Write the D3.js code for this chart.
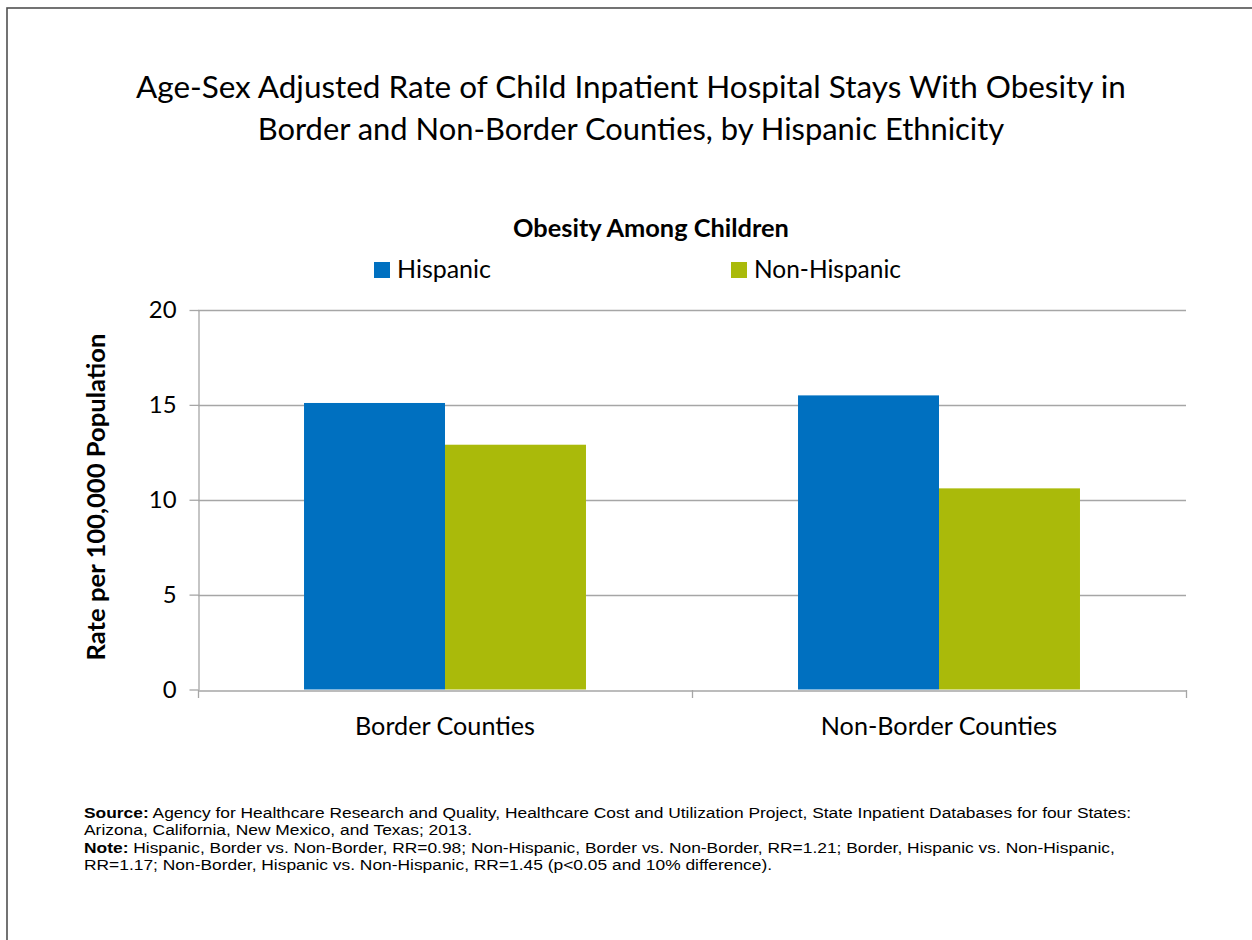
<!DOCTYPE html>
<html><head><meta charset="utf-8">
<script src="https://cdn.jsdelivr.net/npm/d3@7"></script>
<style>body{margin:0;background:#fff;} svg{display:block;}</style>
</head><body>
<script>
const categories = ["Border Counties", "Non-Border Counties"];
const seriesNames = ["Hispanic", "Non-Hispanic"];
const hispanic = [15.1, 15.5];
const nonHispanic = [12.9, 10.6];
const yTicks = [0, 5, 10, 15, 20];
const colors = ["#0070C0", "#AABA0A"];

(function () {
const W = 1252, H = 940;
const svg = d3.select("body").append("svg").attr("width", W).attr("height", H);
svg.append("rect").attr("width", W).attr("height", H).attr("fill", "#fff");
svg.append("rect").attr("x", 7).attr("y", 8).attr("width", W + 10).attr("height", H + 10)
  .attr("fill", "none").attr("stroke", "#505050").attr("stroke-width", 1.6);

const font = "Lato, 'Open Sans', sans-serif";
function fit(node, target) {
  const s = d3.select(node);
  const fs = parseFloat(s.attr("font-size"));
  const w = node.getComputedTextLength();
  s.attr("font-size", (fs * target / w).toFixed(2));
}

const title = ["Age-Sex Adjusted Rate of Child Inpatient Hospital Stays With Obesity in",
               "Border and Non-Border Counties, by Hispanic Ethnicity"];
const titleW = [990, 747];
svg.selectAll("text.title").data(title).enter().append("text").attr("class", "title")
  .attr("x", 631).attr("y", (d, i) => 98 + i * 42).attr("text-anchor", "middle")
  .attr("font-family", font).attr("font-size", 27).attr("fill", "#000").text(d => d)
  .each(function (d, i) { fit(this, titleW[i]); });

svg.append("text").attr("x", 651).attr("y", 237).attr("text-anchor", "middle")
  .attr("font-family", font).attr("font-size", 21).attr("font-weight", "bold").text("Obesity Among Children")
  .each(function () { fit(this, 276); });

const pL = 198, pR = 1186, pT = 310, pB = 689.5;
const y = d3.scaleLinear().domain([0, 20]).range([pB, pT]);
const x0 = d3.scaleBand().domain(categories).range([pL, pR]).padding(0);
const x1 = d3.scaleBand().domain(seriesNames).range([0, x0.bandwidth()]).paddingInner(0).paddingOuter(0.752);

svg.append("g").selectAll("line").data(yTicks.filter(d => d > 0)).enter().append("line")
  .attr("x1", pL).attr("x2", pR).attr("y1", d => Math.round(y(d)) + 0.5).attr("y2", d => Math.round(y(d)) + 0.5)
  .attr("stroke", "#a6a6a6").attr("stroke-width", 1.3);

const data = categories.map((c, i) => ({c, vals: [hispanic[i], nonHispanic[i]]}));
const g = svg.append("g").selectAll("g").data(data).enter().append("g")
  .attr("transform", d => `translate(${x0(d.c)},0)`);
g.selectAll("rect").data(d => d.vals.map((v, j) => ({s: seriesNames[j], v, j}))).enter().append("rect")
  .attr("x", d => x1(d.s)).attr("width", x1.bandwidth())
  .attr("y", d => y(d.v)).attr("height", d => y(0) - y(d.v)).attr("fill", d => colors[d.j]);

const xAxis = svg.append("g").attr("transform", `translate(0,${Math.round(pB) + 0.5})`)
  .call(d3.axisBottom(x0).tickSize(0).tickPadding(30));
xAxis.select(".domain").attr("stroke", "#a6a6a6").attr("stroke-width", 1.3);
xAxis.selectAll("text").attr("font-family", font).attr("font-size", 22).attr("fill", "#000");
const catNode = xAxis.select(".tick text").node();
fit(catNode, 180);
const labelSize = parseFloat(d3.select(catNode).attr("font-size"));
xAxis.selectAll("text").attr("font-size", labelSize).attr("dy", "0.71em").attr("y", 27);

const xt = [pL, (pL + pR) / 2, pR];
svg.append("g").selectAll("line").data(xt).enter().append("line")
  .attr("x1", d => Math.round(d) + 0.5).attr("x2", d => Math.round(d) + 0.5)
  .attr("y1", Math.round(pB)).attr("y2", Math.round(pB) + 8)
  .attr("stroke", "#a6a6a6").attr("stroke-width", 1.3);

const yAxis = svg.append("g").attr("transform", `translate(${pL + 0.5},0)`)
  .call(d3.axisLeft(y).tickValues(yTicks).tickSize(9).tickPadding(13).tickSizeOuter(0));
yAxis.select(".domain").attr("stroke", "#a6a6a6").attr("stroke-width", 1.3);
yAxis.selectAll(".tick line").attr("stroke", "#a6a6a6").attr("stroke-width", 1.3);
yAxis.selectAll("text").attr("font-family", font).attr("font-size", labelSize * 0.95).attr("fill", "#000");

svg.append("text").attr("transform", `translate(105,497) rotate(-90)`).attr("text-anchor", "middle")
  .attr("font-family", font).attr("font-size", 21).attr("font-weight", "bold").text("Rate per 100,000 Population")
  .each(function () { fit(this, 327); });

const legX = [374, 731];
const legW = [94, 147];
const lg = svg.append("g").selectAll("g").data(seriesNames).enter().append("g");
lg.append("rect").attr("x", (d, i) => legX[i]).attr("y", 262).attr("width", 16).attr("height", 16)
  .attr("fill", (d, i) => colors[i]);
lg.append("text").attr("x", (d, i) => legX[i] + 23).attr("y", 278).attr("font-family", font)
  .attr("font-size", 22).text(d => d)
  .each(function (d, i) { fit(this, legW[i]); });

const fnFont = "'Liberation Sans', Arial, sans-serif";
const notes = [
  [["Source:", true], [" Agency for Healthcare Research and Quality, Healthcare Cost and Utilization Project, State Inpatient Databases for four States:", false]],
  [["Arizona, California, New Mexico, and Texas; 2013.", false]],
  [["Note:", true], [" Hispanic, Border vs. Non-Border, RR=0.98; Non-Hispanic, Border vs. Non-Border, RR=1.21; Border, Hispanic vs. Non-Hispanic,", false]],
  [["RR=1.17; Non-Border, Hispanic vs. Non-Hispanic, RR=1.45 (p<0.05 and 10% difference).", false]]
];
const fnG = svg.append("g");
const fnTexts = notes.map((ln, i) => {
  const t = fnG.append("text").attr("x", 0).attr("y", 818 + i * 17.5)
    .attr("font-family", fnFont).attr("font-size", 14.5).attr("fill", "#000");
  ln.forEach(([s, b]) => t.append("tspan").attr("font-weight", b ? "bold" : "normal").text(s));
  return t;
});
const w1 = fnTexts[0].node().getComputedTextLength();
const sx = 1048 / w1;
fnG.attr("transform", `translate(84,0) scale(${sx.toFixed(4)},1)`);
})();
</script>
</body></html>
